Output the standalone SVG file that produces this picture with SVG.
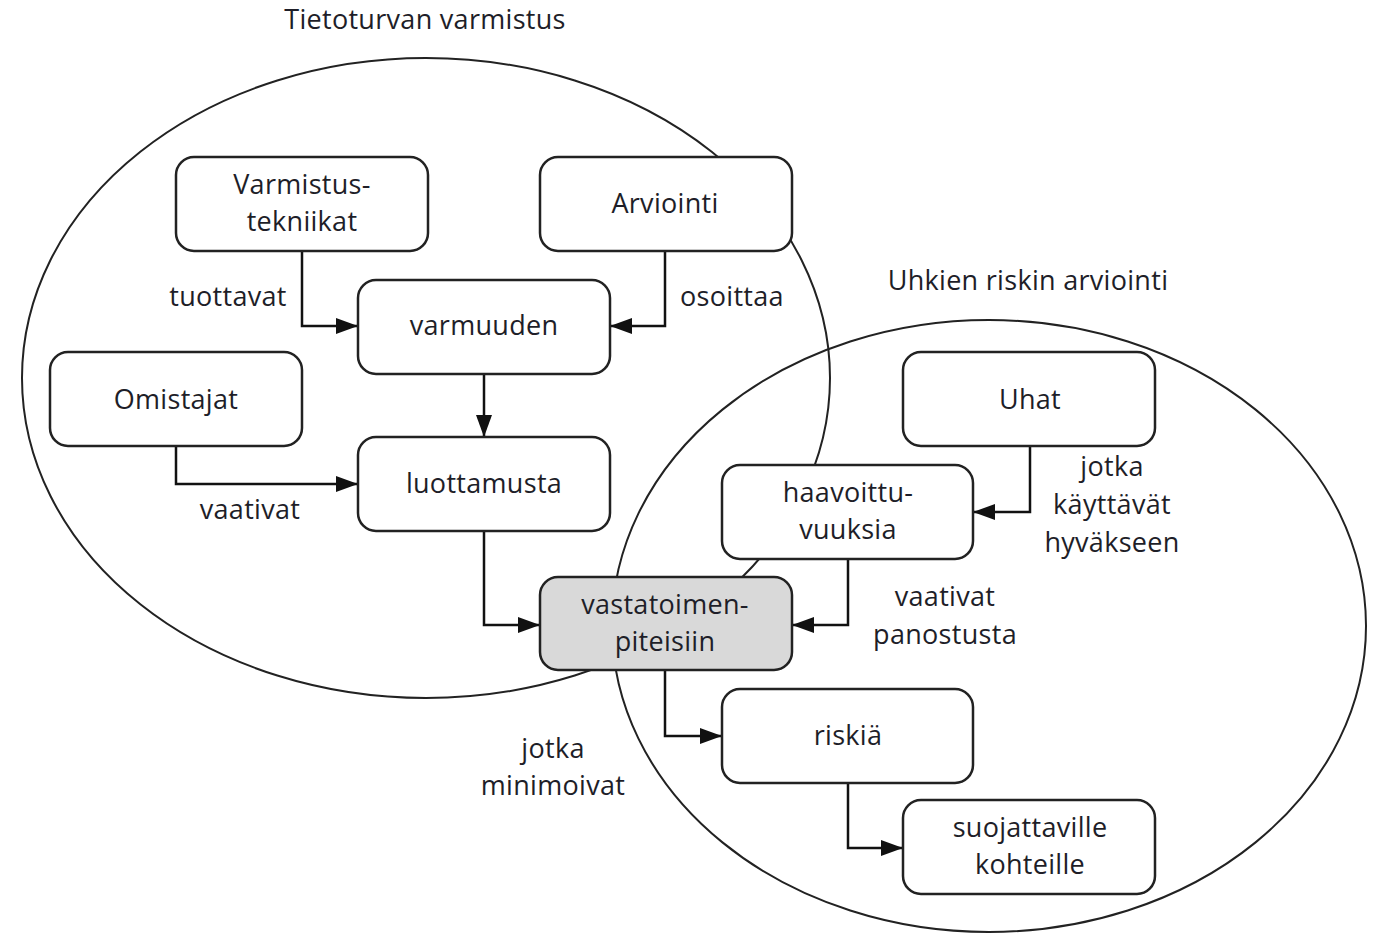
<svg xmlns="http://www.w3.org/2000/svg" width="1375" height="935" viewBox="0 0 1375 935">
<style>
.t{font-family:"Open Sans","Liberation Sans",sans-serif;font-size:27px;letter-spacing:0.3px;fill:#1e1e28;text-anchor:middle}
.b{fill:#fff;stroke:#222;stroke-width:2.5}
.g{fill:#d9d9d9;stroke:#222;stroke-width:2.5}
.e{fill:none;stroke:#222;stroke-width:2}
.c{fill:none;stroke:#111;stroke-width:2.5}
</style>
<defs>
<marker id="a" markerWidth="22" markerHeight="16" refX="22" refY="8" orient="auto" markerUnits="userSpaceOnUse">
<path d="M0,0 L22,8 L0,16 Z" fill="#111"/>
</marker>
</defs>
<rect width="1375" height="935" fill="#fff"/>
<g id="regions">
<ellipse class="e" cx="426" cy="378" rx="404" ry="320"/>
<ellipse class="e" cx="989" cy="626" rx="377" ry="306"/>
<text class="t" x="425" y="29">Tietoturvan varmistus</text>
<text class="t" x="1028" y="290">Uhkien riskin arviointi</text>
</g>
<g id="connectors">
<polyline class="c" points="302,251 302,326 358,326" marker-end="url(#a)"/>
<polyline class="c" points="665,251 665,326 610,326" marker-end="url(#a)"/>
<polyline class="c" points="484,374 484,437" marker-end="url(#a)"/>
<polyline class="c" points="176,446 176,484 358,484" marker-end="url(#a)"/>
<polyline class="c" points="484,531 484,625 540,625" marker-end="url(#a)"/>
<polyline class="c" points="848,559 848,625 792,625" marker-end="url(#a)"/>
<polyline class="c" points="1030,446 1030,512 973,512" marker-end="url(#a)"/>
<polyline class="c" points="665,670 665,736 722,736" marker-end="url(#a)"/>
<polyline class="c" points="848,783 848,848 903,848" marker-end="url(#a)"/>
<text class="t" x="228" y="306">tuottavat</text>
<text class="t" x="732" y="306">osoittaa</text>
<text class="t" x="250" y="519">vaativat</text>
<text class="t" x="1112" y="476">jotka</text>
<text class="t" x="1112" y="514">käyttävät</text>
<text class="t" x="1112" y="552">hyväkseen</text>
<text class="t" x="945" y="606">vaativat</text>
<text class="t" x="945" y="644">panostusta</text>
<text class="t" x="553" y="758">jotka</text>
<text class="t" x="553" y="795">minimoivat</text>
</g>
<g id="n-varmistus"><rect class="b" x="176" y="157" width="252" height="94" rx="18"/><text class="t" x="302" y="194">Varmistus-</text><text class="t" x="302" y="231">tekniikat</text></g>
<g id="n-arviointi"><rect class="b" x="540" y="157" width="252" height="94" rx="18"/><text class="t" x="665" y="213">Arviointi</text></g>
<g id="n-varmuuden"><rect class="b" x="358" y="280" width="252" height="94" rx="18"/><text class="t" x="484" y="335">varmuuden</text></g>
<g id="n-omistajat"><rect class="b" x="50" y="352" width="252" height="94" rx="18"/><text class="t" x="176" y="409">Omistajat</text></g>
<g id="n-luottamusta"><rect class="b" x="358" y="437" width="252" height="94" rx="18"/><text class="t" x="484" y="493">luottamusta</text></g>
<g id="n-uhat"><rect class="b" x="903" y="352" width="252" height="94" rx="18"/><text class="t" x="1030" y="409">Uhat</text></g>
<g id="n-haavoittuvuuksia"><rect class="b" x="722" y="465" width="251" height="94" rx="18"/><text class="t" x="848" y="502">haavoittu-</text><text class="t" x="848" y="539">vuuksia</text></g>
<g id="n-vastatoimenpiteisiin"><rect class="g" x="540" y="577" width="252" height="93" rx="18"/><text class="t" x="665" y="614">vastatoimen-</text><text class="t" x="665" y="651">piteisiin</text></g>
<g id="n-riskia"><rect class="b" x="722" y="689" width="251" height="94" rx="18"/><text class="t" x="848" y="745">riskiä</text></g>
<g id="n-suojattaville"><rect class="b" x="903" y="800" width="252" height="94" rx="18"/><text class="t" x="1030" y="837">suojattaville</text><text class="t" x="1030" y="874">kohteille</text></g>
</svg>
